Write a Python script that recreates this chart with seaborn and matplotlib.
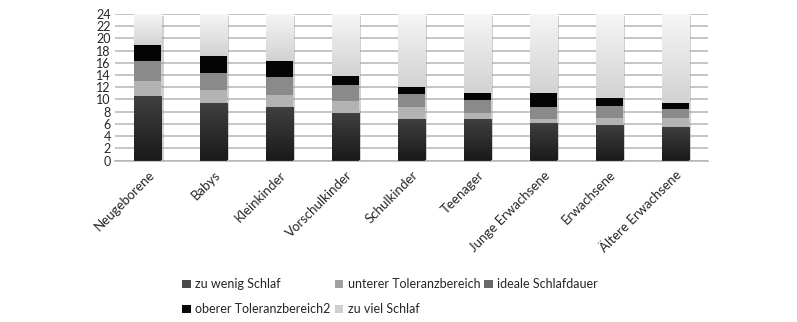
import matplotlib
matplotlib.use("Agg")
import matplotlib.pyplot as plt
import matplotlib.patheffects as pe
import seaborn as sns
import numpy as np
import pandas as pd
from matplotlib.patches import Patch
from matplotlib.colors import LinearSegmentedColormap

categories = ["Neugeborene", "Babys", "Kleinkinder", "Vorschulkinder", "Schulkinder",
              "Teenager", "Junge Erwachsene", "Erwachsene", "Ältere Erwachsene"]
zu_wenig = [10.5, 9.5, 8.7, 7.7, 6.8, 6.8, 6.2, 5.8, 5.5]
unterer = [2.5, 2.0, 2.0, 2.1, 2.0, 0.9, 0.6, 1.1, 1.4]
ideal = [3.3, 2.8, 2.9, 2.5, 2.1, 2.2, 2.0, 2.0, 1.5]
oberer = [2.7, 2.8, 2.7, 1.6, 1.1, 1.1, 2.2, 1.4, 1.1]
zu_viel = [5.0, 6.9, 7.7, 10.1, 12.0, 13.0, 13.0, 13.7, 14.5]

series_names = ["zu wenig Schlaf", "unterer Toleranzbereich", "ideale Schlafdauer",
                "oberer Toleranzbereich2", "zu viel Schlaf"]
series_values = [zu_wenig, unterer, ideal, oberer, zu_viel]
bar_colors = ["#2a2a2a", "#b3b3b3", "#8a8a8a", "#040404", "#e8e8e8"]
legend_colors = ["#4a4a4a", "#a0a0a0", "#6a6a6a", "#0a0a0a", "#cfcfcf"]

yticks = list(range(0, 25, 2))

sns.set_theme(style="white")
plt.rcParams['font.family'] = ['Lato', 'DejaVu Sans']

fig = plt.figure(figsize=(7.97, 3.22), dpi=100)
ax = fig.add_axes([115/797, 1-160.5/322, 593/797, 146.5/322])

cum = np.cumsum(np.array(series_values), axis=0)
layer_patches = {}
# draw from the top cumulative down so each lower segment overlays
for i in range(len(series_names) - 1, -1, -1):
    n_before = len(ax.patches)
    df = pd.DataFrame({"cat": categories, "val": cum[i]})
    sns.barplot(data=df, x="cat", y="val", color=bar_colors[i], width=0.41,
                saturation=1, ax=ax, zorder=3, linewidth=0)
    layer_patches[i] = list(ax.patches[n_before:])

# soft shadow around the full bars
for p in layer_patches[4]:
    p.set_path_effects([pe.SimplePatchShadow(offset=(1.5, -1.5), shadow_rgbFace="#9a9a9a", alpha=0.45),
                        pe.Normal()])

# vertical gradients on bottom and top segments
grad_top = LinearSegmentedColormap.from_list("gt", ["#d2d2d2", "#f6f6f6"])
grad_bot = LinearSegmentedColormap.from_list("gb", ["#1a1a1a", "#404040"])
for i, cmap, z in [(4, grad_top, 3.05), (0, grad_bot, 3.5)]:
    for k, p in enumerate(layer_patches[i]):
        x0 = p.get_x(); w = p.get_width()
        y0 = cum[3][k] if i == 4 else 0
        y1 = p.get_y() + p.get_height()
        im = ax.imshow(np.linspace(0, 1, 64).reshape(-1, 1), cmap=cmap, aspect="auto",
                       origin="lower", extent=(x0, x0 + w, y0, y1), zorder=z,
                       interpolation="bicubic")
        im.set_clip_path(p)

ax.set_ylim(0, 24)
ax.set_xlim(-0.5, len(categories) - 0.5)
ax.set_yticks(yticks)
ax.set_yticklabels([str(t) for t in yticks], fontsize=9)
ax.yaxis.grid(True, color="#b5b5b5", linewidth=1.1, zorder=0)
ax.set_axisbelow(True)
for s in ["top", "right", "left"]:
    ax.spines[s].set_visible(False)
ax.spines["bottom"].set_color("#b5b5b5")
ax.spines["bottom"].set_linewidth(1.1)
ax.tick_params(axis="both", length=0, pad=3)
ax.set_xlabel("")
ax.set_ylabel("")
ax.set_xticks(range(len(categories)))
ax.set_xticklabels(categories, rotation=45, ha="right", rotation_mode="anchor", fontsize=9.5)
ax.tick_params(axis="x", pad=6)

handles = [Patch(facecolor=c, edgecolor="none") for c in legend_colors]
order = [0, 3, 1, 4, 2]
fig.legend([handles[i] for i in order], [series_names[i] for i in order],
           ncol=3, loc="upper left", bbox_to_anchor=(176/797, 1-272/322),
           frameon=False, fontsize=9, handlelength=0.7, handleheight=0.7,
           handletextpad=0.35, columnspacing=0.3, labelspacing=1.05, borderpad=0)

fig.savefig("out.png", dpi=100)
